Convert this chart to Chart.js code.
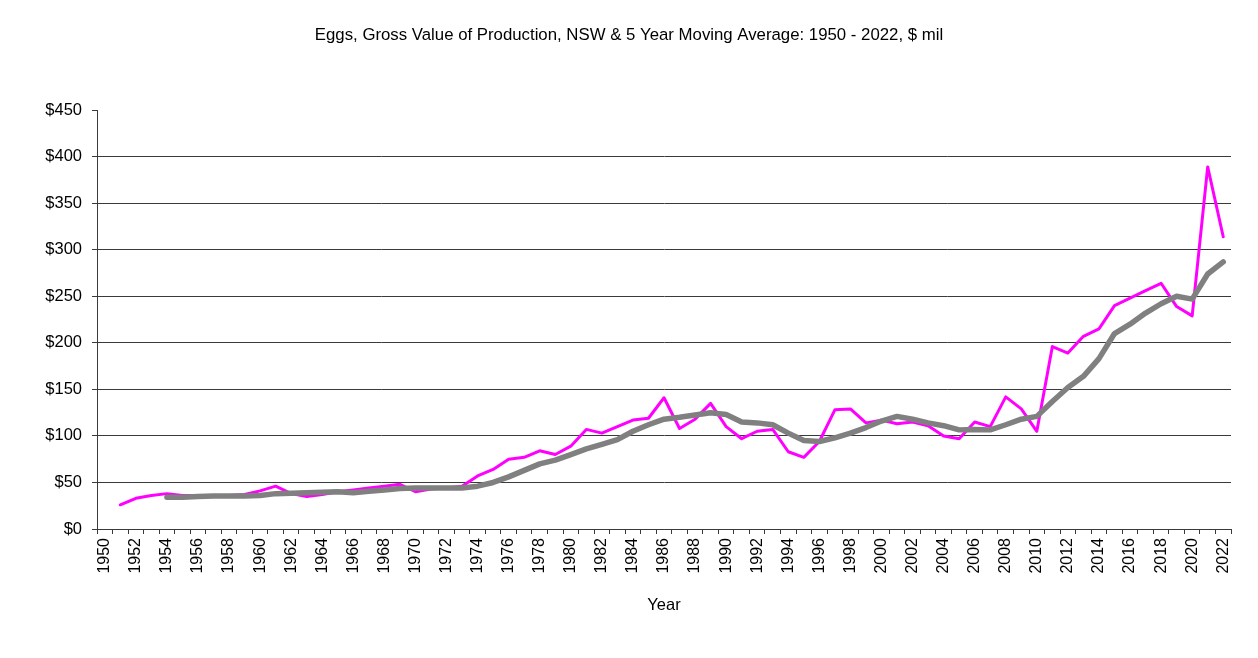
<!DOCTYPE html>
<html>
<head>
<meta charset="utf-8">
<script src="https://cdn.jsdelivr.net/npm/chart.js@4.4.1/dist/chart.umd.min.js"></script>
<style>
  html, body { margin: 0; padding: 0; background: #fff; }
  #wrap { width: 1258px; height: 658px; position: relative; }
</style>
</head>
<body>
<div id="wrap"><canvas id="c"></canvas></div>
<script>
const titleText = 'Eggs, Gross Value of Production, NSW & 5 Year Moving Average: 1950 - 2022, $ mil';
const xTitle = 'Year';
const years = [];
for (let y = 1950; y <= 2022; y++) years.push(String(y));

// Gross value of production, $ mil (1950 not shown)
const gvp = [null,
  26, 33, 36, 38, 36, 36, 36, 36, 37,
  41, 46, 38, 35, 37, 40, 42, 44, 46, 48,
  40, 43, 44, 46, 57, 64, 75, 77, 84, 80,
  89, 107, 103, 110, 117, 119, 141, 108, 118, 135,
  110, 97, 105, 107, 83, 77, 94, 128, 129, 114,
  117, 113, 115, 111, 100, 97, 115, 110, 142, 129,
  105, 196, 189, 207, 215, 240, 248, 256, 264, 239,
  229, 389, 314];

// 5 year moving average, $ mil (starts 1954)
const movingAvg = [null, null, null, null,
  34, 34, 35, 35.5, 35.5, 35.5,
  36, 38, 38.5, 39, 39.5, 40, 39, 40.5, 42, 43.5,
  44, 44, 44, 44, 46, 50, 56, 63, 70, 74,
  80, 86, 91, 96, 105, 112, 118, 120, 122.5, 125,
  123, 115, 114, 112, 103, 95, 94, 98, 103, 109,
  116, 121, 118, 114, 111, 106.5, 107, 106.5, 112, 118,
  121, 137, 152, 164, 183, 210, 220, 232, 242, 250,
  247, 274, 287];

const yMin = 0, yMax = 450, yStep = 50;

const FONT = '"Liberation Sans", Arial, sans-serif';
const axisColor = '#3a3a3a';

new Chart(document.getElementById('c'), {
  type: 'line',
  data: {
    labels: years,
    datasets: [
      {
        label: 'Gross Value of Production',
        data: gvp,
        borderColor: '#FF00FF',
        borderWidth: 3,
        pointRadius: 0,
        tension: 0,
        fill: false,
        spanGaps: false,
        borderJoinStyle: 'round',
        borderCapStyle: 'round',
        yAxisID: 'y',
        order: 1
      },
      {
        label: '5 Year Moving Average',
        data: movingAvg,
        borderColor: '#808080',
        borderWidth: 5.5,
        pointRadius: 0,
        tension: 0,
        fill: false,
        borderJoinStyle: 'round',
        borderCapStyle: 'round',
        yAxisID: 'y',
        order: 0
      }
    ]
  },
  options: {
    responsive: true,
    maintainAspectRatio: false,
    animation: false,
    devicePixelRatio: 1,
    layout: { padding: { left: 0, right: 0, top: 0, bottom: 0 } },
    plugins: {
      legend: { display: false },
      tooltip: { enabled: false },
      title: {
        display: true,
        text: titleText,
        fullSize: true,
        color: '#000',
        font: { family: FONT, size: 16.8, weight: 'normal' },
        padding: { top: 25, bottom: 65 }
      }
    },
    scales: {
      x: {
        type: 'category',
        offset: true,
        afterFit: (s) => { s.height = 129; },
        grid: {
          offset: true,
          drawOnChartArea: false,
          drawTicks: true,
          tickLength: 5,
          color: axisColor,
          tickColor: axisColor
        },
        border: { display: true, color: axisColor, width: 1 },
        ticks: {
          autoSkip: false,
          maxRotation: 90,
          minRotation: 90,
          padding: 4,
          color: '#000',
          font: { family: FONT, size: 16 },
          callback: function (v, i) {
            const lab = this.getLabelForValue(v);
            return (Number(lab) % 2 === 0) ? lab : '';
          }
        },
        title: {
          display: true,
          text: xTitle,
          color: '#000',
          font: { family: FONT, size: 16.5 },
          padding: { top: 0, bottom: 43 }
        }
      },
      y: {
        min: yMin,
        max: yMax,
        afterFit: (s) => { s.width = 97; },
        grid: {
          drawTicks: true,
          tickLength: 5,
          color: (ctx) => (ctx.tick && ctx.tick.value === yMax) ? 'rgba(0,0,0,0)' : axisColor,
          tickColor: axisColor,
          lineWidth: 1
        },
        border: { display: true, color: axisColor, width: 1 },
        ticks: {
          stepSize: yStep,
          padding: 10,
          color: '#000',
          font: { family: FONT, size: 16.5 },
          callback: (v) => '$' + v
        }
      },
      yRightMargin: {
        position: 'right',
        min: yMin,
        max: yMax,
        afterFit: (s) => { s.width = 27; },
        grid: { display: false, drawOnChartArea: false },
        border: { display: false },
        ticks: { display: false }
      }
    }
  }
});
</script>
</body>
</html>
